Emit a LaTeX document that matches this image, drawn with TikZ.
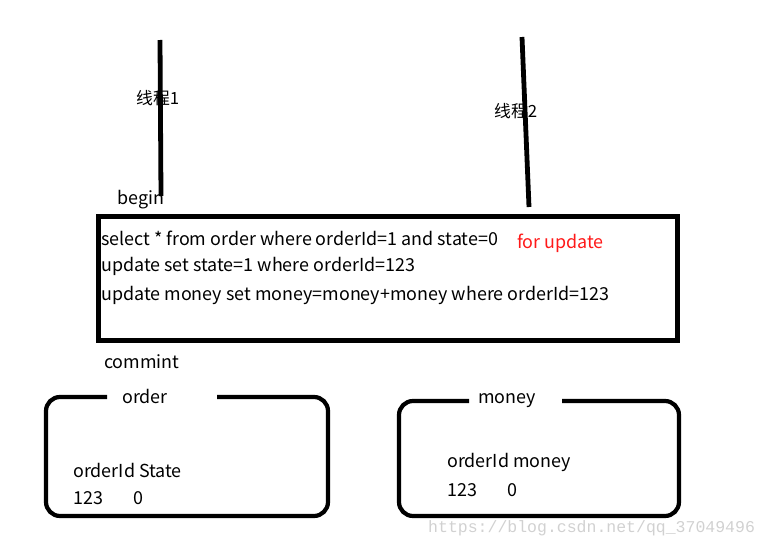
\documentclass[tikz,border=0pt]{standalone}
\usepackage{fontspec}
\setmainfont{Noto Sans CJK SC}
\newfontfamily\wmfont{Liberation Mono}
\begin{document}
\begin{tikzpicture}[x=1pt,y=-1pt,
  txt/.style={anchor=west,inner sep=0pt,font=\fontsize{17.9}{20}\selectfont},
  cjk/.style={anchor=west,inner sep=0pt,font=\fontsize{16.8}{20}\selectfont},
  thread/.style={line width=4.8pt},
  bigbox/.style={line width=5.2pt},
  tbl/.style={line width=4.2pt,rounded corners=14pt}]
\useasboundingbox (0,0) rectangle (769,549);
% threads
\coordinate (t1a) at (160,40);
\coordinate (t1b) at (161,196);
\coordinate (t2a) at (522,37);
\coordinate (t2b) at (529,207);
\draw[thread] (t1a) -- (t1b);
\draw[thread] (t2a) -- (t2b);
\node[cjk] (l1) at (136,98) {线程1};
\node[cjk] (l2) at (494,111) {线程2};
\node[txt] (begin) at (117,200) {begin};
% main box
\node[draw,bigbox,minimum width=579pt,minimum height=124pt,inner sep=0pt,anchor=north west] (tx) at (96,214) {};
\node[txt] (s1) at (101,238) {select * from order where orderId=1 and state=0};
\node[txt] (s2) at (101,266) {update set state=1 where orderId=123};
\node[txt] (s3) at (101,295) {update money set money=money+money where orderId=123};
\node[txt,text=red!90!white] (fu) at (517,243) {for update};
\node[txt] (commit) at (104,362) {commint};
% order table
\coordinate (oa) at (217,397);
\coordinate (ob) at (107,397);
\draw[tbl] (oa) -- (328,397) -- (328,516) -- (46,516) -- (46,397) -- (ob);
\node[txt] (ot) at (122,396) {order};
\node[txt] (oh) at (73,470) {orderId State};
\node[txt] (o1) at (73,498) {123};
\node[txt] (o2) at (133,498) {0};
% money table
\coordinate (ma) at (562,401);
\coordinate (mb) at (469,401);
\draw[tbl] (ma) -- (679,401) -- (679,516) -- (399,516) -- (399,401) -- (mb);
\node[txt] (mt) at (478,401) {money};
\node[txt] (mh) at (447,462) {orderId money};
\node[txt] (m1) at (447,490) {123};
\node[txt] (m2) at (507,490) {0};
% watermark
\node[anchor=west,inner sep=0pt,text=black!18,font=\wmfont\fontsize{16.5}{18}\selectfont] (wm) at (428,528) {https://blog.csdn.net/qq\_37049496};
\end{tikzpicture}
\end{document}
